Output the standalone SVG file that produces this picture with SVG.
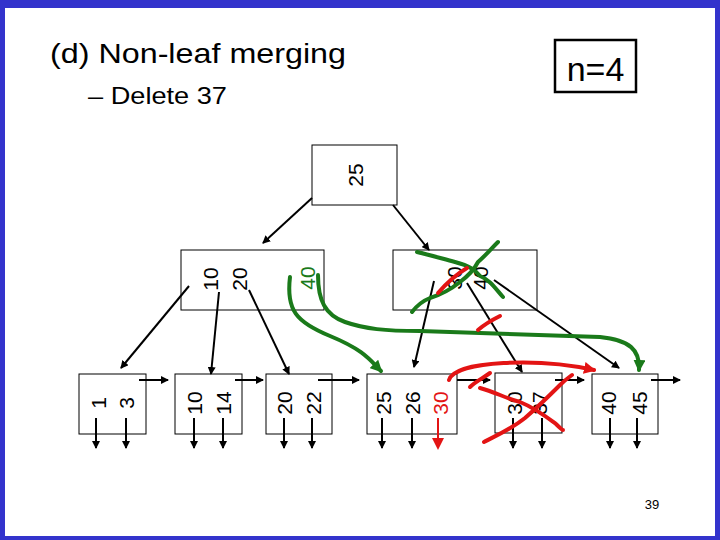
<svg xmlns="http://www.w3.org/2000/svg" width="720" height="540" viewBox="0 0 720 540">
<defs>
<style>
.t{font-family:"Liberation Sans",Arial,sans-serif;fill:#000}
.k{font-family:"Liberation Sans",Arial,sans-serif;font-size:21px;text-anchor:middle}
.box{fill:#fff;stroke:#000;stroke-width:1}
.c{stroke:#000;stroke-width:2;fill:none;marker-end:url(#ah)}
.p{stroke:#000;stroke-width:2;fill:none;marker-end:url(#ah)}
.g{stroke:#1a7a1a;stroke-width:4;fill:none;stroke-linecap:round;stroke-linejoin:round}
.r{stroke:#e31414;stroke-width:4;fill:none;stroke-linecap:round;stroke-linejoin:round}
</style>
<marker id="ah" markerWidth="8" markerHeight="8" refX="7" refY="4" orient="auto" markerUnits="userSpaceOnUse"><path d="M0,0 L8,4 L0,8 z" fill="#000"/></marker>
<marker id="ahg" markerWidth="12" markerHeight="12" refX="10" refY="6" orient="auto" markerUnits="userSpaceOnUse"><path d="M0,0 L12,6 L0,12 z" fill="#1a7a1a"/></marker>
<marker id="ahr" markerWidth="12" markerHeight="12" refX="10" refY="6" orient="auto" markerUnits="userSpaceOnUse"><path d="M0,0 L12,6 L0,12 z" fill="#e31414"/></marker>
</defs>
<rect x="0" y="0" width="720" height="540" fill="#fff"/>
<path d="M0,0H720V540H0Z M5,8V536H715V8Z" fill="#3333cc" fill-rule="evenodd"/>
<text class="t" x="50" y="63" font-size="28" textLength="296" lengthAdjust="spacingAndGlyphs">(d) Non-leaf merging</text>
<text class="t" x="88" y="104" font-size="24" textLength="139" lengthAdjust="spacingAndGlyphs">– Delete 37</text>
<g id="n4"><rect x="555" y="40" width="81" height="52" fill="#fff" stroke="#000" stroke-width="2.5"/><text class="t" x="595.5" y="81" font-size="34" text-anchor="middle">n=4</text></g>
<text class="t" x="652" y="509" font-size="13" text-anchor="middle">39</text>

<g id="root"><rect class="box" x="312" y="145" width="85" height="60"/><text class="k" transform="translate(363,175) rotate(-90)">25</text></g>
<g id="inL"><rect class="box" x="181" y="250" width="143" height="60"/>
<text class="k" transform="translate(218,279) rotate(-90)">10</text>
<text class="k" transform="translate(247,279) rotate(-90)">20</text>
<text class="k" transform="translate(315,278) rotate(-90)" fill="#1a7a1a">40</text></g>
<g id="inR"><rect class="box" x="393" y="250" width="144" height="60"/>
<text class="k" transform="translate(462,278) rotate(-90)">30</text>
<text class="k" transform="translate(488,278) rotate(-90)">40</text></g>

<g id="leaf1"><rect class="box" x="79" y="374" width="67" height="60"/>
<text class="k" transform="translate(106,403) rotate(-90)">1</text><text class="k" transform="translate(134,403) rotate(-90)">3</text></g>
<g id="leaf2"><rect class="box" x="175" y="374" width="67" height="60"/>
<text class="k" transform="translate(202,403) rotate(-90)">10</text><text class="k" transform="translate(231,403) rotate(-90)">14</text></g>
<g id="leaf3"><rect class="box" x="266" y="374" width="66" height="60"/>
<text class="k" transform="translate(292,403) rotate(-90)">20</text><text class="k" transform="translate(321,403) rotate(-90)">22</text></g>
<g id="leaf4"><rect class="box" x="367" y="374" width="90" height="60"/>
<text class="k" transform="translate(391,403) rotate(-90)">25</text><text class="k" transform="translate(420,403) rotate(-90)">26</text><text class="k" transform="translate(448,403) rotate(-90)" fill="#e31414">30</text></g>
<g id="leaf5"><rect class="box" x="495" y="373" width="67" height="60"/>
<text class="k" transform="translate(522,403) rotate(-90)">30</text><text class="k" transform="translate(547,403) rotate(-90)">37</text></g>
<g id="leaf6"><rect class="box" x="592" y="374" width="66" height="60"/>
<text class="k" transform="translate(616,403) rotate(-90)">40</text><text class="k" transform="translate(647,403) rotate(-90)">45</text></g>

<g id="connectors">
<path class="c" d="M312,198L263,243"/>
<path class="c" d="M393,205L429,250"/>
<path class="c" d="M189,286L121,368"/>
<path class="c" d="M219,292L211,374"/>
<path class="c" d="M249,290L289,374"/>
<path class="c" d="M434,281L414,367"/>
<path class="c" d="M467,283L522,372"/>
<path class="c" d="M494,280L619,368"/>
<path class="p" d="M139,380H168"/><path class="p" d="M235,380H263"/><path class="p" d="M318,380H359"/>
<path class="p" d="M457,380H490"/><path class="p" d="M555,380H584"/><path class="p" d="M651,380H680"/>
<path class="p" d="M96,418V448"/><path class="p" d="M126,418V448"/>
<path class="p" d="M194,418V448"/><path class="p" d="M223,418V448"/>
<path class="p" d="M284,418V448"/><path class="p" d="M312,418V448"/>
<path class="p" d="M382,418V448"/><path class="p" d="M412,418V448"/>
<path class="p" d="M438,418V448" style="stroke:#e31414;marker-end:url(#ahr)"/>
<path class="p" d="M513,418V448"/><path class="p" d="M542,418V448"/>
<path class="p" d="M610,418V448"/><path class="p" d="M637,418V448"/>
<path class="g" d="M290,277C286,310 296,322 330,336S370,360 381,371" marker-end="url(#ahg)"/>
<path class="g" d="M318,275C318,300 325,315 345,322S385,331 420,331L600,337C630,340 640,350 639,370" marker-end="url(#ahg)"/>
<path class="g" d="M417,252C430,255 440,258 455,262C470,266 475,270 480,276C490,280 495,288 503,297"/>
<path class="g" d="M498,242C490,250 485,256 478,262C474,270 468,276 460,282C450,290 440,295 430,298C420,302 415,308 412,312"/>
<path class="r" d="M438,293C445,285 455,275 467,268"/>
<path class="r" d="M478,330C485,324 492,320 500,316"/>
<path class="r" d="M449,380C455,360 540,358 594,370" marker-end="url(#ahr)"/>
<path class="r" d="M470,387C475,382 483,378 490,373"/>
<path class="r" d="M484,442C495,436 510,430 525,418C540,405 550,395 560,385C565,380 568,378 572,375"/>
<path class="r" d="M480,388C495,392 505,398 520,402C535,408 548,418 556,424C560,428 562,430 563,430"/>
</g>
</svg>
